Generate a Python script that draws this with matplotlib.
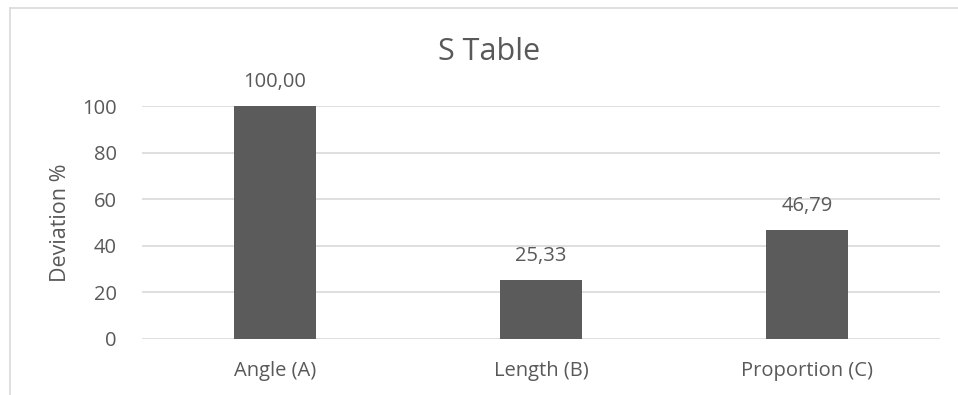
import matplotlib
matplotlib.use("Agg")
import matplotlib.pyplot as plt
from matplotlib.lines import Line2D

categories = ["Angle (A)", "Length (B)", "Proportion (C)"]
values = [100.00, 25.33, 46.79]
yticks = [0, 20, 40, 60, 80, 100]
title = "S Table"
ylabel = "Deviation %"

plt.rcParams["font.family"] = ["Open Sans", "DejaVu Sans"]
text_color = "#595959"
bar_color = "#5b5b5b"
grid_color = "#d9d9d9"

fig = plt.figure(figsize=(9.58, 3.95), dpi=100)
W, H = 958, 395
ax = fig.add_axes([142 / W, 56 / H, (940 - 142) / W, (339 - 106) / H])

x = range(len(categories))
bars = ax.bar(x, values, width=0.312, color=bar_color, zorder=3)
ax.set_xlim(-0.5, len(categories) - 0.5)
ax.set_ylim(0, 100)
ax.set_yticks(yticks)
ax.set_yticklabels([str(t) for t in yticks])
ax.set_xticks(list(x))
ax.set_xticklabels(categories)

ax.grid(axis="y", color=grid_color, linewidth=1.2, zorder=0)
for s in ax.spines.values():
    s.set_visible(False)
ax.tick_params(axis="both", length=0, labelsize=14.5, colors=text_color)
ax.tick_params(axis="x", pad=15.5)
ax.tick_params(axis="y", pad=18)

for b, v in zip(bars, values):
    ax.annotate(f"{v:.2f}".replace(".", ","),
                (b.get_x() + b.get_width() / 2, v),
                xytext=(0, 17.5), textcoords="offset points",
                ha="center", va="center", fontsize=14.5, color=text_color,
                annotation_clip=False)

ax.set_ylabel(ylabel, fontsize=15.5, color=text_color, labelpad=8)
fig.text(489 / W, 1 - 52 / H, title, ha="center", va="center",
         fontsize=22, color=text_color)

# chart area border
fig.add_artist(Line2D([9.5 / W, 9.5 / W], [0, 1 - 7.5 / H], transform=fig.transFigure,
                      color=grid_color, linewidth=1.2))
fig.add_artist(Line2D([9.5 / W, 1], [1 - 7.5 / H, 1 - 7.5 / H], transform=fig.transFigure,
                      color=grid_color, linewidth=1.2))

fig.savefig("out.png", dpi=100)
